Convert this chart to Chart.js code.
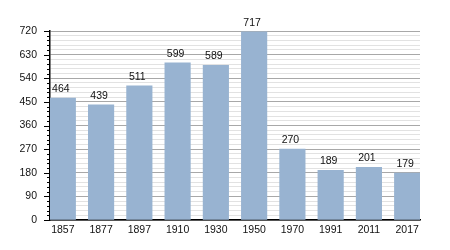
<!DOCTYPE html>
<html><head><meta charset="utf-8">
<script src="https://cdn.jsdelivr.net/npm/chart.js@4"></script>
<style>html,body{margin:0;padding:0;background:#fff}#w{width:450px;height:250px}</style>
</head><body><div id="w"><canvas id="c"></canvas></div>
<script>
const categories = ["1857","1877","1897","1910","1930","1950","1970","1991","2011","2017"];
const values = [464,439,511,599,589,717,270,189,201,179];
const yTickLabels = [0,90,180,270,360,450,540,630,720];

const FONT = "'Liberation Sans', Arial, sans-serif";
const tickPlugin = {
  id:'ticksAndLabels',
  afterDraw(chart){
    const ctx = chart.ctx, y = chart.scales.y;
    ctx.save();
    ctx.strokeStyle = '#000'; ctx.lineWidth = 1;
    for(let v=0; v<=720; v+=18){
      const py = Math.round(y.getPixelForValue(v))+0.5;
      const major = yTickLabels.includes(v);
      ctx.beginPath();
      ctx.moveTo(y.right - (major?6:3), py);
      ctx.lineTo(y.right, py);
      ctx.stroke();
    }
    ctx.fillStyle = '#111';
    ctx.font = '10.5px ' + FONT;
    ctx.textAlign = 'center'; ctx.textBaseline = 'middle';
    const meta = chart.getDatasetMeta(0);
    meta.data.forEach((b,i)=>{
      ctx.fillText(String(values[i]), b.x - 2, b.y - 9);
    });
    ctx.restore();
  }
};

new Chart(document.getElementById('c'), {
  type:'bar',
  data:{datasets:[{data:values.map((v,i)=>({x:i,y:v})), backgroundColor:'#98b3d1', barThickness:25.5}]},
  options:{
    responsive:true, maintainAspectRatio:false, animation:false,
    layout:{padding:{top:31, right:30, left:0, bottom:0}},
    plugins:{legend:{display:false}, tooltip:{enabled:false}},
    scales:{
      x:{
        type:'linear', min:-0.335, max:9.335, offset:false,
        afterBuildTicks(s){ s.ticks = categories.map((c,i)=>({value:i})); },
        grid:{display:false, drawTicks:false},
        border:{color:'#000', width:1.5},
        ticks:{color:'#111', font:{family:FONT, size:10.5}, padding:4, maxRotation:0, autoSkip:false,
          callback:(v)=> categories[v] ?? ''},
        afterFit(s){ s.height = 30; }
      },
      y:{
        min:0, max:720,
        grid:{drawTicks:false, color:(c)=> (c.tick && yTickLabels.includes(c.tick.value)) ? '#a8a8a8' : '#e2e2e2', lineWidth:1},
        border:{color:'#000', width:1.5},
        ticks:{stepSize:18, autoSkip:false, color:'#111', font:{family:FONT, size:10.5}, padding:13,
          callback:(v)=> yTickLabels.includes(v) ? String(v) : ''},
        afterFit(s){ s.width = 50; }
      }
    }
  },
  plugins:[tickPlugin]
});
</script></body></html>
